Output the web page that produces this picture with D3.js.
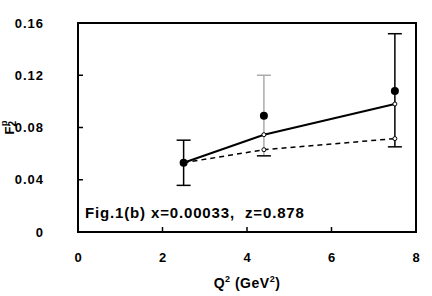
<!DOCTYPE html>
<html>
<head>
<meta charset="utf-8">
<script src="https://cdn.jsdelivr.net/npm/d3@7"></script>
<style>
  body { margin: 0; background: #fff; }
  svg { display: block; font-family: "Liberation Sans", Arial, sans-serif; font-weight: bold; }
</style>
</head>
<body>
<svg id="chart" width="432" height="296"></svg>
<script>
// measured points with errors
const q2 = [2.5, 4.4, 7.5];
const f2 = [0.053, 0.089, 0.108];
const errLow = [0.0357, 0.0583, 0.0652];
const errHigh = [0.0703, 0.120, 0.1518];
const errColor = ["#000", "#aaa", "#000"];

// model curves
const solidFit = [0.053, 0.0745, 0.098];
const dashedFit = [0.053, 0.063, 0.0715];

const xTicks = [0, 2, 4, 6, 8];
const yTicks = [0, 0.04, 0.08, 0.12, 0.16];

const margin = { top: 23, right: 16, bottom: 64, left: 78 };
const width = 432, height = 296;

const svg = d3.select("#chart");

const x = d3.scaleLinear().domain([0, 8]).range([margin.left, width - margin.right]);
const y = d3.scaleLinear().domain([0, 0.16]).range([height - margin.bottom, margin.top]);

// frame
svg.append("rect")
  .attr("x", x(0)).attr("y", y(0.16))
  .attr("width", x(8) - x(0)).attr("height", y(0) - y(0.16))
  .attr("fill", "none").attr("stroke", "#000").attr("stroke-width", 2);

// inward ticks
svg.selectAll(".xt").data(xTicks.slice(1, -1)).enter().append("line")
  .attr("x1", d => x(d)).attr("x2", d => x(d))
  .attr("y1", y(0)).attr("y2", y(0) - 5)
  .attr("stroke", "#000").attr("stroke-width", 1.5);
svg.selectAll(".yt").data(yTicks.slice(1, -1)).enter().append("line")
  .attr("x1", x(0)).attr("x2", x(0) + 5)
  .attr("y1", d => y(d)).attr("y2", d => y(d))
  .attr("stroke", "#000").attr("stroke-width", 1.5);

// tick labels
svg.selectAll(".xl").data(xTicks).enter().append("text")
  .attr("x", d => x(d) + 0.5).attr("y", 262)
  .attr("text-anchor", "middle").attr("font-size", 13)
  .attr("letter-spacing", 1)
  .text(d => d);
svg.selectAll(".yl").data(yTicks).enter().append("text")
  .attr("x", 44).attr("y", d => y(d) + 4.5)
  .attr("text-anchor", "end").attr("font-size", 13)
  .attr("letter-spacing", 1)
  .text(d => d === 0 ? "0" : d.toFixed(2));

// axis titles
const xt = svg.append("text")
  .attr("x", (x(0) + x(8)) / 2).attr("y", 288)
  .attr("text-anchor", "middle").attr("font-size", 14)
  .attr("letter-spacing", 0.5);
xt.append("tspan").text("Q");
xt.append("tspan").attr("font-size", 9).attr("dy", -6).text("2");
xt.append("tspan").attr("dy", 6).text(" (GeV");
xt.append("tspan").attr("font-size", 9).attr("dy", -6).text("2");
xt.append("tspan").attr("dy", 6).text(")");

const yt = svg.append("text")
  .attr("transform", `translate(14,${(y(0) + y(0.16)) / 2}) rotate(-90)`)
  .attr("text-anchor", "middle").attr("font-size", 13);
yt.append("tspan").text("F");
yt.append("tspan").attr("font-size", 10).attr("dy", 2).text("2");
yt.append("tspan").attr("font-size", 9).attr("dy", -9).attr("dx", -5).text("p");

// fit lines
const line = d3.line().x((d, i) => x(q2[i])).y(d => y(d));
svg.append("path").datum(dashedFit)
  .attr("d", line).attr("fill", "none")
  .attr("stroke", "#000").attr("stroke-width", 1.5)
  .attr("stroke-dasharray", "5,4");
svg.append("path").datum(solidFit)
  .attr("d", line).attr("fill", "none")
  .attr("stroke", "#000").attr("stroke-width", 2);

// error bars
q2.forEach((q, i) => {
  const g = svg.append("g").attr("stroke-width", 1.5);
  g.append("line").attr("x1", x(q)).attr("x2", x(q))
    .attr("y1", y(errLow[i])).attr("y2", y(errHigh[i])).attr("stroke", errColor[i]);
  g.append("line").attr("x1", x(q) - 7).attr("x2", x(q) + 7)
    .attr("y1", y(errHigh[i])).attr("y2", y(errHigh[i])).attr("stroke", errColor[i]);
  g.append("line").attr("x1", x(q) - 7).attr("x2", x(q) + 7)
    .attr("y1", y(errLow[i])).attr("y2", y(errLow[i])).attr("stroke", "#000");
});

// open markers on fits
[solidFit, dashedFit].forEach(s => {
  svg.selectAll(null).data(s.slice(1)).enter().append("circle")
    .attr("cx", (d, i) => x(q2[i + 1])).attr("cy", d => y(d))
    .attr("r", 2).attr("fill", "#fff").attr("stroke", "#000").attr("stroke-width", 1);
});

// data points
svg.selectAll(".dot").data(f2).enter().append("circle")
  .attr("cx", (d, i) => x(q2[i])).attr("cy", d => y(d))
  .attr("r", 4).attr("fill", "#000");

// annotation
svg.append("text")
  .attr("x", 85).attr("y", 218).attr("font-size", 15)
  .attr("letter-spacing", 0.85)
  .attr("xml:space", "preserve")
  .text("Fig.1(b) x=0.00033,  z=0.878");
</script>
</body>
</html>
